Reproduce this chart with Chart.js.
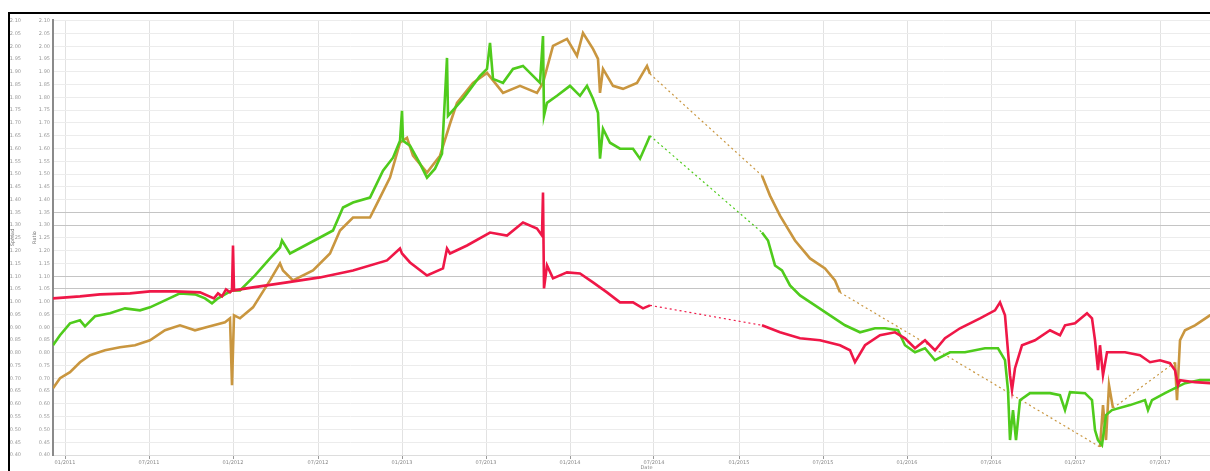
<!DOCTYPE html>
<html>
<head>
<meta charset="utf-8">
<script src="https://cdn.jsdelivr.net/npm/chart.js"></script>
<style>
  body { margin: 0; background: #fff; }
  #frame {
    position: absolute; left: 8px; top: 12px;
    width: 1240px; height: 470px;
    border: 2px solid #000; overflow: hidden; background: #fff;
  }
  #chart { display: block; }
</style>
</head>
<body>
<div id="frame"><canvas id="chart" width="1230" height="457"></canvas></div>
<script>
// x = day index, y = value
const redX = [0, 27, 47, 77, 97, 122, 147, 161, 165, 169,
  173, 177, 179, 180, 181, 200, 234, 267, 300, 334,
  347, 349, 357, 374, 390, 394, 397, 414, 437, 454,
  470, 484, 489, 490, 491, 494, 500, 514, 527, 540,
  554, 567, 580, 590, 597,
  709, 727, 747, 767, 787, 797, 802, 812, 827, 842,
  852, 862, 872, 882, 892, 907, 927, 942, 947, 952,
  957, 959, 962, 969, 982, 997, 1007, 1012, 1022, 1034,
  1039, 1042, 1045, 1047, 1050, 1054, 1072, 1087, 1097, 1107,
  1117, 1122, 1125, 1127, 1142, 1157, 1170];
const redY = [15.7, 15.9, 16.1, 16.2, 16.4, 16.4, 16.3, 15.7, 16.2, 15.9,
  16.6, 16.3, 16.5, 21.0, 16.5, 16.8, 17.3, 17.8, 18.5, 19.5,
  20.7, 20.2, 19.3, 18.0, 18.7, 20.7, 20.2, 21.0, 22.3, 22.0,
  23.3, 22.7, 22.0, 26.3, 16.7, 19.0, 17.7, 18.3, 18.2, 17.3,
  16.3, 15.3, 15.3, 14.7, 15.0,
  13.0, 12.3, 11.7, 11.5, 11.0, 10.5, 9.3, 11.0, 12.0, 12.3,
  11.7, 10.7, 11.5, 10.5, 11.7, 12.7, 13.7, 14.5, 15.3, 14.0,
  8.0, 6.5, 8.7, 11.0, 11.5, 12.5, 12.0, 13.0, 13.2, 14.2,
  13.7, 11.5, 8.5, 11.0, 8.0, 10.3, 10.3, 10.0, 9.3, 9.5,
  9.2, 8.5, 7.0, 7.5, 7.3, 7.2, 7.2];

const greenX = [0, 7, 17, 27, 32, 42, 57, 72, 87, 97,
  112, 127, 142, 152, 159, 165, 179, 187, 202, 217,
  227, 229, 237, 252, 267, 280, 290, 300, 317, 330,
  340, 347, 349, 350, 357, 367, 374, 382, 389, 394,
  395, 410, 427, 434, 437, 440, 450, 460, 470, 480,
  487, 490, 491, 494, 504, 517, 527, 534, 540, 545,
  547, 550, 557, 567, 580, 587, 594, 597,
  709, 715, 722, 729, 737, 747, 762, 777, 792, 807,
  822, 832, 845, 852, 862, 872, 882, 897, 912, 932,
  945, 952, 955, 957, 960, 963, 967, 977, 997, 1007,
  1012, 1017, 1032, 1039, 1042, 1045, 1049, 1053, 1059, 1077,
  1092, 1095, 1099, 1112, 1122, 1132, 1147, 1159, 1170];
const greenY = [11.0, 12.0, 13.2, 13.5, 12.9, 13.9, 14.2, 14.7, 14.5, 14.8,
  15.5, 16.2, 16.1, 15.7, 15.2, 15.7, 16.5, 16.5, 18.0, 19.7,
  20.8, 21.5, 20.2, 21.0, 21.8, 22.5, 24.8, 25.3, 25.8, 28.5,
  29.8, 31.5, 34.5, 31.5, 31.0, 29.2, 27.8, 28.7, 30.2, 39.8,
  34.0, 35.7, 38.0, 38.7, 41.3, 37.7, 37.3, 38.7, 39.0, 38.0,
  37.3, 42.0, 34.0, 35.3, 36.0, 37.0, 36.0, 37.0, 35.7, 34.3,
  29.7, 32.7, 31.3, 30.7, 30.7, 29.7, 31.3, 32.0,
  22.3, 21.5, 19.0, 18.5, 17.0, 16.0, 15.0, 14.0, 13.0, 12.3,
  12.7, 12.7, 12.5, 11.0, 10.3, 10.7, 9.5, 10.3, 10.3, 10.7,
  10.7, 9.5, 6.5, 1.5, 4.5, 1.5, 5.5, 6.2, 6.2, 6.0,
  4.5, 6.3, 6.2, 5.5, 2.5, 1.5, 1.0, 4.0, 4.5, 5.0,
  5.5, 4.5, 5.5, 6.2, 6.7, 7.2, 7.5, 7.5, 7.5];

const orangeX = [0, 7, 17, 27, 37, 52, 67, 82, 97, 112,
  127, 142, 157, 172, 177, 179, 181, 187, 200, 217,
  227, 230, 240, 260, 277, 287, 300, 317, 327, 337,
  347, 354, 360, 374, 387, 397, 404, 420, 434, 450,
  467, 484, 490, 500, 514, 524, 530, 540, 545, 547,
  550, 560, 570, 584, 594, 597,
  709, 717, 727, 742, 757, 772, 782, 787,
  1047, 1050, 1053, 1056, 1060,
  1122, 1124, 1127, 1132, 1142, 1157, 1170];
const orangeY = [6.7, 7.7, 8.3, 9.3, 10.0, 10.5, 10.8, 11.0, 11.5, 12.5,
  13.0, 12.5, 12.9, 13.3, 13.7, 7.0, 14.0, 13.7, 14.8, 17.5,
  19.2, 18.5, 17.5, 18.5, 20.2, 22.5, 23.8, 23.8, 25.8, 27.8,
  31.3, 31.8, 30.0, 28.3, 30.0, 33.2, 35.3, 37.3, 38.3, 36.3,
  37.0, 36.3, 37.3, 41.0, 41.7, 40.0, 42.3, 40.7, 39.7, 36.3,
  38.7, 37.0, 36.7, 37.3, 39.0, 38.2,
  28.0, 26.0, 24.0, 21.5, 19.7, 18.7, 17.5, 16.3,
  0.8, 5.0, 1.5, 7.0, 4.7,
  9.3, 5.5, 11.5, 12.5, 13.0, 14.0, 14.3];

const xTickValues = [12, 96, 180, 265, 349, 433, 517, 601, 686, 770, 854, 938, 1022, 1107];
const xTickLabels = ['01/2011', '07/2011', '01/2012', '07/2012', '01/2013', '07/2013', '01/2014', '07/2014', '01/2015', '07/2015', '01/2016', '07/2016', '01/2017', '07/2017'];
const innerLabels = ['0.40', '0.45', '0.50', '0.55', '0.60', '0.65', '0.70', '0.75', '0.80', '0.85', '0.90', '0.95', '1.00', '1.05', '1.10', '1.15', '1.20', '1.25', '1.30', '1.35', '1.40', '1.45', '1.50', '1.55', '1.60', '1.65', '1.70', '1.75', '1.80', '1.85', '1.90', '1.95', '2.00', '2.05', '2.10'];
const outerLabels = ['-8.5', '-8', '-7.5', '-7', '-6.5', '-6', '-5.5', '-5', '-4.5', '-4', '-3.5', '-3', '-2.5', '-2', '-1.5', '-1', '-0.5', '0', '0.5', '1', '1.5', '2', '2.5', '3', '3.5', '4', '4.5', '5', '5.5', '6', '6.5', '7', '7.5', '8', '8.5'];
const darkRows = [13, 14, 18, 19];

const yTickStep = 1.28;
const yTicks = innerLabels.map((_, k) => ({ value: k * yTickStep }));

function points(xs, ys) {
  return xs.map((x, i) => ({ x: x, y: ys[i] }));
}

const isGap = ctx => ctx.p1.parsed.x - ctx.p0.parsed.x > 40;

function series(label, xs, ys, color) {
  return {
    label: label,
    data: points(xs, ys),
    borderColor: color,
    borderWidth: 2.6,
    pointRadius: 0,
    tension: 0,
    segment: {
      borderDash: ctx => isGap(ctx) ? [2, 3] : undefined,
      borderWidth: ctx => isGap(ctx) ? 1.2 : undefined
    }
  };
}

const font = { family: 'DejaVu Sans', size: 5 };

new Chart(document.getElementById('chart'), {
  type: 'line',
  data: {
    datasets: [
      series('Series A', redX, redY, '#ef1747'),
      series('Series B', greenX, greenY, '#4fcb1c'),
      series('Series C', orangeX, orangeY, '#c9963f')
    ]
  },
  options: {
    responsive: false,
    animation: false,
    layout: { padding: { top: 5, left: 0, right: 0, bottom: 0 } },
    plugins: { legend: { display: false }, tooltip: { enabled: false } },
    scales: {
      x: {
        type: 'linear',
        min: 0,
        max: 1187,
        afterBuildTicks: scale => { scale.ticks = xTickValues.map(v => ({ value: v })); },
        afterFit: scale => { scale.height = 16; },
        ticks: {
          font: font, color: '#888', padding: 1, maxRotation: 0, autoSkip: false,
          callback: (v, i) => xTickLabels[i]
        },
        grid: { color: '#e2e2e2', tickLength: 4, tickColor: '#999' },
        border: { color: '#ddd' },
        title: { display: true, text: 'Date', font: font, color: '#888', padding: 0 }
      },
      y: {
        position: 'left',
        weight: 0,
        min: 0,
        max: 43.6,
        afterBuildTicks: scale => { scale.ticks = yTicks.slice(); },
        afterFit: scale => { scale.width = 21; },
        ticks: { font: font, color: '#999', padding: 3, autoSkip: false, callback: (v, i) => innerLabels[i] },
        grid: {
          drawTicks: false,
          color: ctx => darkRows.includes(ctx.index) ? '#c4c4c4' : '#ececec'
        },
        border: { color: '#8a8a8a', width: 2 },
        title: { display: true, text: 'Ratio', font: font, color: '#777', padding: 0 }
      },
      y2: {
        position: 'left',
        weight: 1,
        min: 0,
        max: 43.6,
        afterBuildTicks: scale => { scale.ticks = yTicks.slice(); },
        afterFit: scale => { scale.width = 22; },
        ticks: { font: font, color: '#999', padding: 3, autoSkip: false, callback: (v, i) => outerLabels[i] },
        grid: { display: false },
        border: { display: false },
        title: { display: true, text: 'Spread', font: font, color: '#777', padding: 0 }
      }
    }
  }
});
</script>
</body>
</html>
